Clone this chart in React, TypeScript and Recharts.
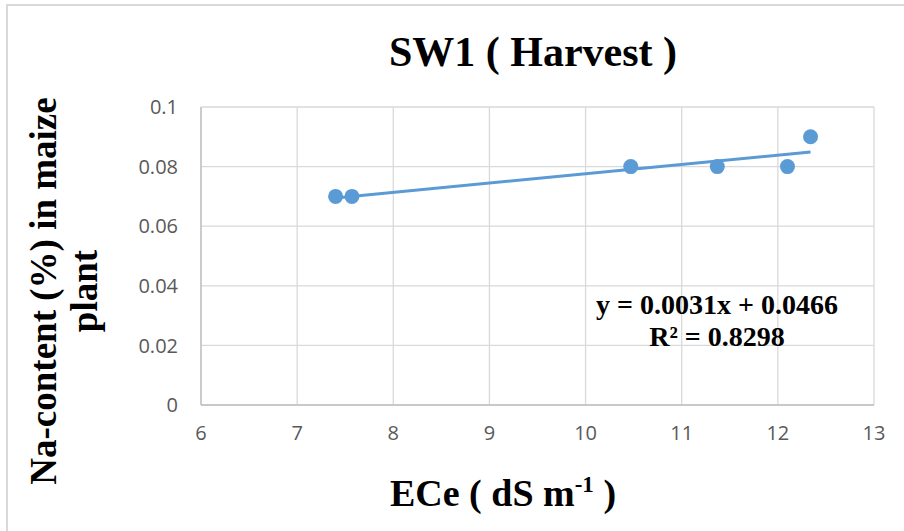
import { CartesianGrid, Scatter, ScatterChart, XAxis, YAxis } from "recharts";

const ece = [7.4, 7.57, 10.47, 11.37, 12.1, 12.34];
const naContent = [0.07, 0.07, 0.08, 0.08, 0.08, 0.09];

// trend line end points as drawn (Excel linear trendline)
const trendEce = [7.4, 12.34];
const trendNa = [0.0695, 0.0849];

const xTicks = [6, 7, 8, 9, 10, 11, 12, 13];
const yTicks = [0, 0.02, 0.04, 0.06, 0.08, 0.1];

const points = ece.map((x, i) => ({ x, y: naContent[i] }));
const trend = trendEce.map((x, i) => ({ x, y: trendNa[i] }));

const BLUE = "#5b9bd5";
const serif = "'Liberation Serif', 'Times New Roman', serif";
const tickStyle = { fill: "#595959", fontSize: 20, fontFamily: "'Open Sans', sans-serif" };

function Dot(props: any) {
  return <circle cx={props.cx} cy={props.cy} r={7.5} fill={BLUE} />;
}

export default function App() {
  return (
    <div style={{ position: "absolute", left: 0, top: 0, width: 904, height: 531, background: "#fff" }}>
      <ScatterChart
        width={904}
        height={531}
        margin={{ top: 107, right: 30, bottom: 86, left: 0 }}
      >
        <CartesianGrid stroke="#d9d9d9" strokeWidth={1.3} />
        <XAxis
          type="number"
          dataKey="x"
          domain={[6, 13]}
          ticks={xTicks}
          height={40}
          tickLine={false}
          tickSize={0}
          tickMargin={21}
          axisLine={{ stroke: "#bfbfbf", strokeWidth: 1.3 }}
          tick={tickStyle}
        />
        <YAxis
          type="number"
          dataKey="y"
          domain={[0, 0.1]}
          ticks={yTicks}
          width={201}
          tickLine={false}
          tickSize={0}
          tickMargin={23}
          axisLine={{ stroke: "#bfbfbf", strokeWidth: 1.3 }}
          tick={tickStyle}
        />
        <Scatter
          data={trend}
          line={{ stroke: BLUE, strokeWidth: 3 }}
          shape={() => <g />}
          isAnimationActive={false}
        />
        <Scatter data={points} shape={Dot} isAnimationActive={false} />
      </ScatterChart>

      <svg
        width={904}
        height={531}
        style={{ position: "absolute", left: 0, top: 0, pointerEvents: "none" }}
      >
        <line x1={6} y1={5} x2={904} y2={5} stroke="#d9d9d9" strokeWidth={2} />
        <line x1={7} y1={5} x2={7} y2={531} stroke="#d9d9d9" strokeWidth={2} />
        <text x={533} y={66} textAnchor="middle" fontFamily={serif} fontWeight="bold" fontSize={42}>
          SW1 ( Harvest )
        </text>
        <text x={503} y={506} textAnchor="middle" fontFamily={serif} fontWeight="bold" fontSize={38}>
          ECe ( dS m
          <tspan fontSize={23} dy={-14}>-1</tspan>
          <tspan dy={14}> )</tspan>
        </text>
        <g transform="translate(0,291) rotate(-90)" fontFamily={serif} fontWeight="bold" fontSize={37}>
          <text x={0} y={56} textAnchor="middle">Na-content (%) in maize</text>
          <text x={0} y={97} textAnchor="middle">plant</text>
        </g>
        <g fontFamily={serif} fontWeight="bold" fontSize={28} textAnchor="middle">
          <text x={717} y={314}>y = 0.0031x + 0.0466</text>
          <text x={717} y={346}>R² = 0.8298</text>
        </g>
      </svg>
    </div>
  );
}
